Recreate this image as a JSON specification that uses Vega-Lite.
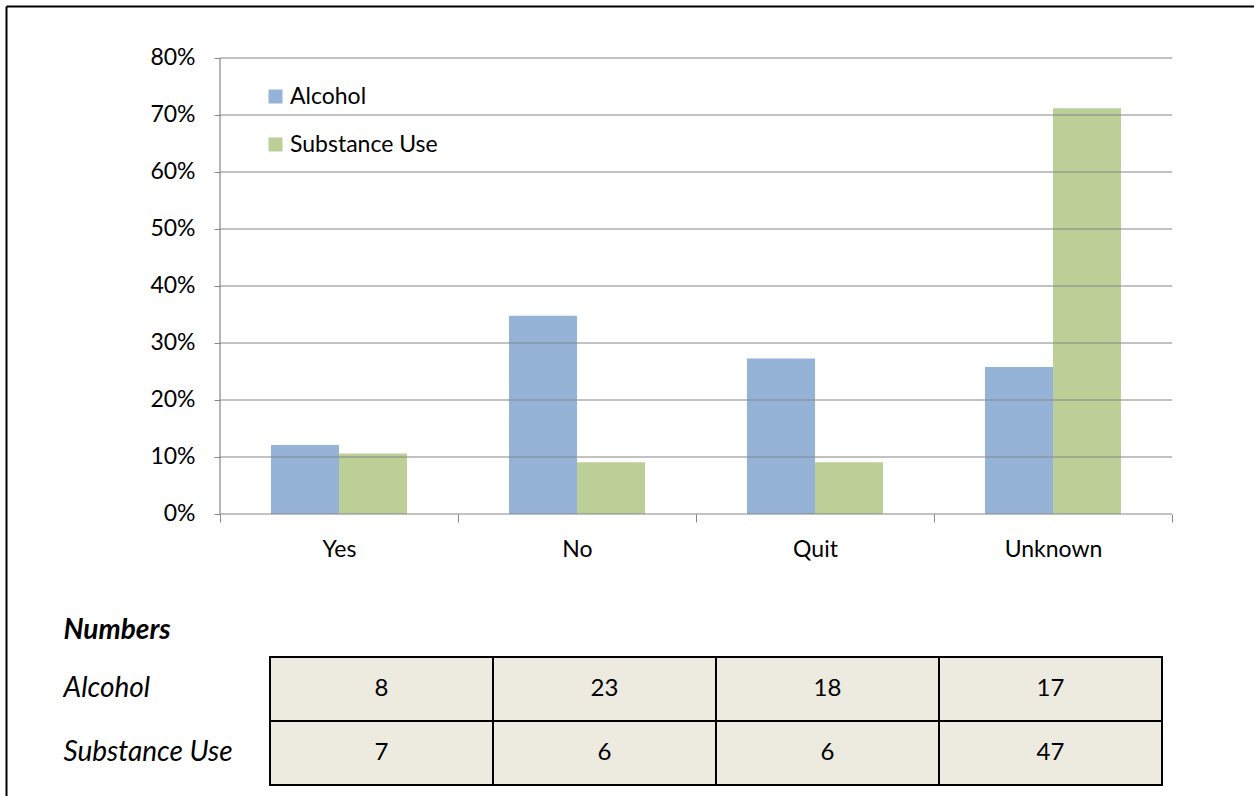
{
  "$schema": "https://vega.github.io/schema/vega-lite/v6.json",
  "width": 1248,
  "height": 790,
  "autosize": {"type": "none"},
  "padding": {"left": 6, "top": 6, "right": 0, "bottom": 0},
  "background": "white",
  "config": {
    "view": {"stroke": null},
    "font": "Lato",
    "axis": {"labelFont": "Lato"},
    "legend": {"labelFont": "Lato"},
    "text": {"font": "Lato"}
  },
  "datasets": {
    "bars": [
      {"cat": "Yes", "series": "Alcohol", "pct": 0.121},
      {"cat": "Yes", "series": "Substance Use", "pct": 0.106},
      {"cat": "No", "series": "Alcohol", "pct": 0.348},
      {"cat": "No", "series": "Substance Use", "pct": 0.091},
      {"cat": "Quit", "series": "Alcohol", "pct": 0.273},
      {"cat": "Quit", "series": "Substance Use", "pct": 0.091},
      {"cat": "Unknown", "series": "Alcohol", "pct": 0.258},
      {"cat": "Unknown", "series": "Substance Use", "pct": 0.712}
    ],
    "table": [
      {"row": "Alcohol", "cat": "Yes", "n": 8},
      {"row": "Alcohol", "cat": "No", "n": 23},
      {"row": "Alcohol", "cat": "Quit", "n": 18},
      {"row": "Alcohol", "cat": "Unknown", "n": 17},
      {"row": "Substance Use", "cat": "Yes", "n": 7},
      {"row": "Substance Use", "cat": "No", "n": 6},
      {"row": "Substance Use", "cat": "Quit", "n": 6},
      {"row": "Substance Use", "cat": "Unknown", "n": 47}
    ],
    "grid": [
      {"g": 0}, {"g": 0.1}, {"g": 0.2}, {"g": 0.3}, {"g": 0.4},
      {"g": 0.5}, {"g": 0.6}, {"g": 0.7}, {"g": 0.8}
    ]
  },
  "layer": [
    {
      "layer": [
        {
          "data": {"name": "bars"},
          "mark": {"type": "bar"},
          "encoding": {
            "x": {
              "field": "cat", "type": "nominal", "sort": null,
              "scale": {"domain": ["Yes", "No", "Quit", "Unknown"], "paddingInner": 0, "paddingOuter": 0.62185, "align": 0.72297},
              "axis": {
                "orient": "bottom", "offset": -282, "tickBand": "extent", "domain": false, "grid": false,
                "ticks": true, "tickSize": 8, "tickColor": "#868686", "tickWidth": 1,
                "labelPadding": 16, "labelFontSize": 23, "labelColor": "black", "labelAngle": 0, "title": null
              }
            },
            "xOffset": {
              "field": "series", "type": "nominal", "sort": null,
              "scale": {"domain": ["Alcohol", "Substance Use"], "paddingInner": 0, "paddingOuter": 0.75}
            },
            "y": {
              "field": "pct", "type": "quantitative", "stack": null,
              "scale": {"domain": [-0.494737, 0.891228], "nice": false, "zero": false},
              "axis": {
                "orient": "left", "offset": -214, "values": [0, 0.1, 0.2, 0.3, 0.4, 0.5, 0.6, 0.7, 0.8],
                "format": ".0%", "domain": false, "grid": false, "ticks": true, "tickSize": 6,
                "tickColor": "#868686", "tickWidth": 1, "labelPadding": 19, "labelFontSize": 23,
                "labelColor": "black", "title": null
              }
            },
            "y2": {"datum": 0},
            "color": {
              "field": "series", "type": "nominal",
              "scale": {"domain": ["Alcohol", "Substance Use"], "range": ["#95B3D7", "#BBCF97"]},
              "legend": {
                "orient": "none", "legendX": 258, "legendY": 79, "title": null, "padding": 0,
                "symbolType": "square", "symbolSize": 196, "symbolStrokeWidth": 0, "symbolOpacity": 1,
                "labelFontSize": 23, "labelColor": "black", "labelOffset": 3, "rowPadding": 24, "labelLimit": 400
              }
            }
          }
        },
        {
          "data": {"name": "grid"},
          "mark": {"type": "rule", "color": "#868686", "strokeWidth": 1.2},
          "encoding": {
            "x": {"datum": "Yes", "bandPosition": 0},
            "x2": {"datum": "Unknown", "bandPosition": 1},
            "y": {"field": "g", "type": "quantitative"}
          }
        },
        {
          "data": {"values": [{}]},
          "mark": {"type": "rule", "color": "#868686", "strokeWidth": 1.2},
          "encoding": {
            "x": {"datum": "Yes", "bandPosition": 0},
            "y": {"datum": 0},
            "y2": {"datum": 0.8}
          }
        }
      ]
    },
    {
      "data": {"name": "table"},
      "encoding": {
        "x": {
          "field": "cat", "type": "nominal", "sort": null,
          "scale": {"domain": ["Yes", "No", "Quit", "Unknown"], "paddingInner": 0, "paddingOuter": 0.798206, "align": 0.741573},
          "axis": null
        },
        "y": {
          "field": "row", "type": "nominal", "sort": null,
          "scale": {"domain": ["Numbers", "Alcohol", "Substance Use"], "paddingInner": 0, "paddingOuter": 0, "range": [587, 779]},
          "axis": {
            "orient": "left", "offset": -57, "domain": false, "ticks": false, "tickSize": 0, "grid": false,
            "labelPadding": 0, "labelAlign": "left", "labelBaseline": "middle", "labelFontSize": 28,
            "labelFontStyle": "italic",
            "labelFontWeight": {"condition": {"test": "datum.value === 'Numbers'", "value": "bold"}, "value": "normal"},
            "labelOffset": {"condition": {"test": "datum.value === 'Numbers'", "value": 6}, "value": 0},
            "labelColor": "black", "labelLimit": 400, "title": null
          }
        }
      },
      "layer": [
        {"mark": {"type": "rect", "fill": "#EDEAE0", "stroke": "black", "strokeWidth": 2}},
        {
          "mark": {"type": "text", "fontSize": 24, "color": "black", "baseline": "middle"},
          "encoding": {"text": {"field": "n", "type": "quantitative"}}
        }
      ]
    },
    {
      "data": {"name": "bars"},
      "mark": {"type": "point", "opacity": 0},
      "encoding": {
        "x": {
          "field": "cat", "type": "nominal",
          "axis": {"orient": "top", "offset": 0, "domain": true, "domainColor": "black", "domainWidth": 2, "labels": false, "ticks": false, "grid": false, "title": null}
        },
        "y": {
          "field": "series", "type": "nominal",
          "axis": {"orient": "left", "offset": 0, "domain": true, "domainColor": "black", "domainWidth": 2, "labels": false, "ticks": false, "grid": false, "title": null}
        }
      }
    }
  ],
  "resolve": {
    "scale": {"x": "independent", "y": "independent"},
    "axis": {"x": "independent", "y": "independent"}
  }
}
